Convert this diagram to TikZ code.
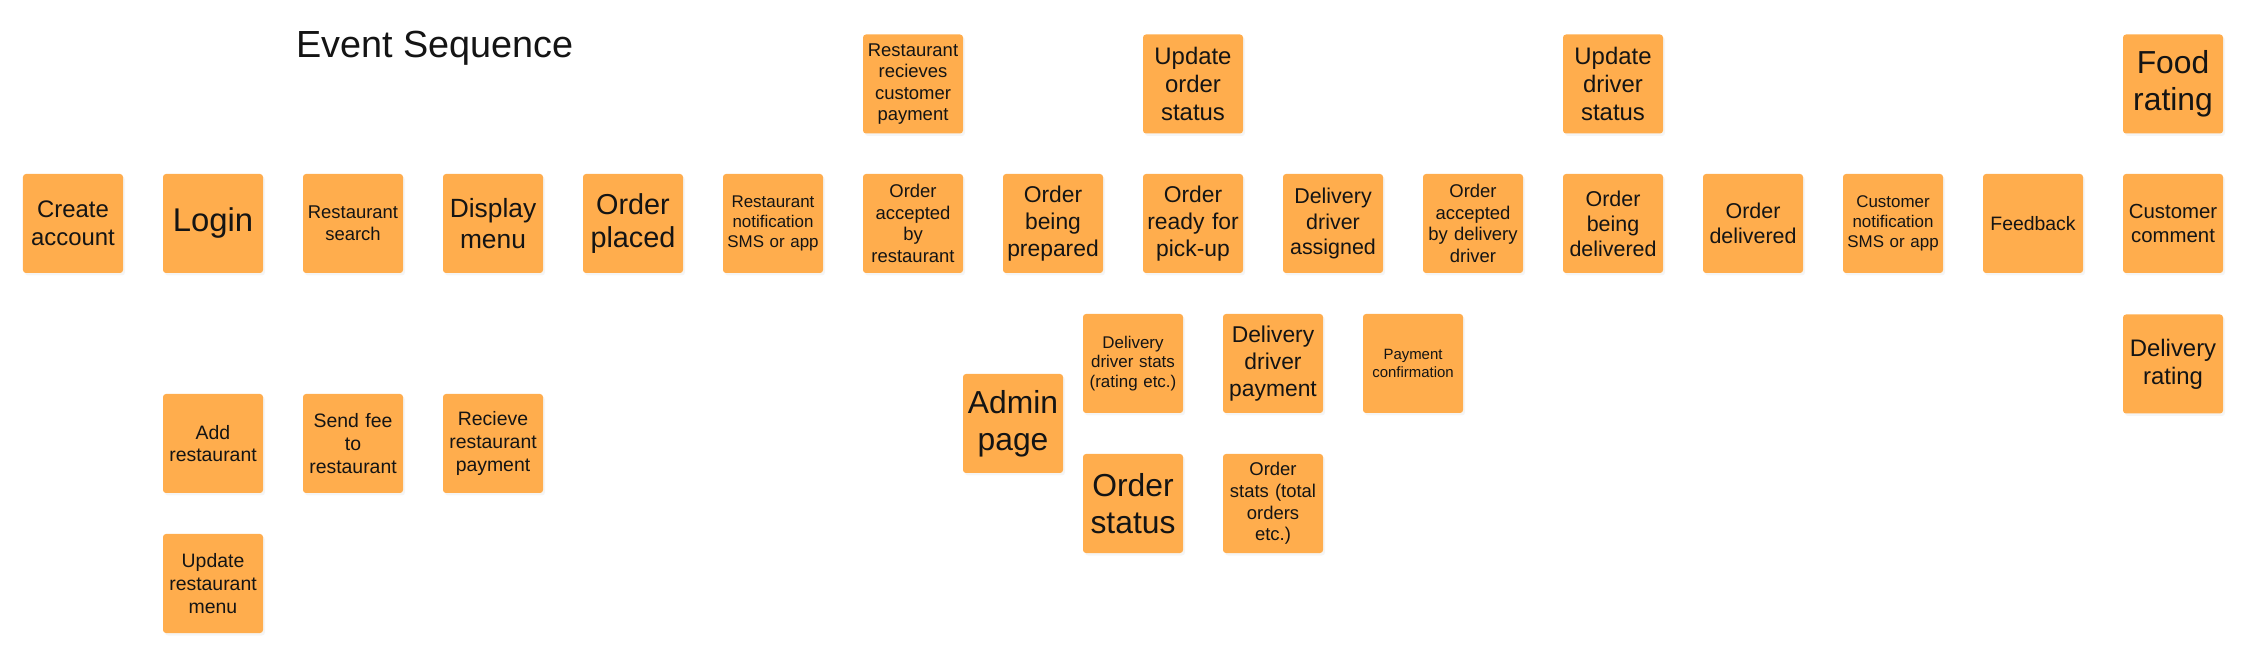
\documentclass[tikz,border=0pt]{standalone}
\usepackage{fontspec}
\setmainfont{Liberation Sans}
\usetikzlibrary{shadows}

\definecolor{sticky}{RGB}{255,173,77}
\definecolor{ink}{RGB}{20,20,20}

\tikzset{
  note/.style={fill=sticky, text=ink, rounded corners=0.6mm, minimum width=20mm, minimum height=19.8mm,
               inner sep=0pt, text width=19.6mm, align=center,
               drop shadow={shadow xshift=0.4mm, shadow yshift=-0.5mm, opacity=0.08}},
  t15/.style={font=\fontsize{8.5}{9.95}\selectfont},
  t17/.style={font=\fontsize{9.64}{11.3}\selectfont},
  t18/.style={font=\fontsize{10.5}{12.3}\selectfont},
  t19/.style={font=\fontsize{11.05}{12.9}\selectfont},
  t20/.style={font=\fontsize{11.6}{13.6}\selectfont},
  t21/.style={font=\fontsize{12.2}{14.25}\selectfont},
  t23/.style={font=\fontsize{13}{15.25}\selectfont},
  t24/.style={font=\fontsize{13.6}{15.9}\selectfont},
  t26/.style={font=\fontsize{15}{17.6}\selectfont},
  t29/.style={font=\fontsize{16.4}{19.2}\selectfont},
  t32/.style={font=\fontsize{18.1}{21.2}\selectfont},
  t33/.style={font=\fontsize{18.7}{21.9}\selectfont}
}

\begin{document}
\begin{tikzpicture}[x=0.2mm, y=-0.2mm]
    \useasboundingbox (0,0) rectangle (2249,664);

    \node [anchor=base west, text=ink, font=\fontsize{21.5}{26}\selectfont] (title) at (290,58) {Event Sequence};

    \node [note, t24] (create)     at (73,223.5)   {Create\\account};
    \node [note, t33] (login)      at (213,223.5)  {Login};
    \node [note, t18] (search)     at (353,223.5)  {Restaurant\\search};
    \node [note, t26] (menu)       at (493,223.5)  {Display\\menu};
    \node [note, t29] (placed)     at (633,223.5)  {Order\\placed};
    \node [note, t17] (notify)     at (773,223.5)  {Restaurant\\notification\\SMS or app};
    \node [note, t18] (accepted)   at (913,223.5)  {Order\\accepted\\by\\restaurant};
    \node [note, t23] (prepared)   at (1053,223.5) {Order\\being\\prepared};
    \node [note, t23] (ready)      at (1193,223.5) {Order\\ready for\\pick-up};
    \node [note, t21] (assigned)   at (1333,223.5) {Delivery\\driver\\assigned};
    \node [note, t18] (driveracc)  at (1473,223.5) {Order\\accepted\\by delivery\\driver};
    \node [note, t21] (delivering) at (1613,223.5) {Order\\being\\delivered};
    \node [note, t21] (delivered)  at (1753,223.5) {Order\\delivered};
    \node [note, t17] (custnotify) at (1893,223.5) {Customer\\notification\\SMS or app};
    \node [note, t19] (feedback)   at (2033,223.5) {Feedback};
    \node [note, t20] (comment)    at (2173,223.5) {Customer\\comment};

    \node [note, t18] (payrecv)    at (913,84)     {Restaurant\\recieves\\customer\\payment};
    \node [note, t24] (updorder)   at (1193,84)    {Update\\order\\status};
    \node [note, t24] (upddriver)  at (1613,84)    {Update\\driver\\status};
    \node [note, t32] (foodrating) at (2173,84)    {Food\\rating};

    \node [note, t19] (addrest)    at (213,443.5)  {Add\\restaurant};
    \node [note, t19] (sendfee)    at (353,443.5)  {Send fee\\to\\restaurant};
    \node [note, t19] (recvpay)    at (493,443.5)  {Recieve\\restaurant\\payment};
    \node [note, t19] (updmenu)    at (213,583.5)  {Update\\restaurant\\menu};

    \node [note, t32] (admin)      at (1013,423.5) {Admin\\page};
    \node [note, t17] (drvstats)   at (1133,363.5) {Delivery\\driver stats\\(rating etc.)};
    \node [note, t32] (ordstatus)  at (1133,503.5) {Order\\status};
    \node [note, t23] (drvpay)     at (1273,363.5) {Delivery\\driver\\payment};
    \node [note, t18] (ordstats)   at (1273,503.5) {Order\\stats (total\\orders\\etc.)};
    \node [note, t15] (payconf)    at (1413,363.5) {Payment\\confirmation};
    \node [note, t24] (delrating)  at (2173,364)   {Delivery\\rating};

\end{tikzpicture}
\end{document}
